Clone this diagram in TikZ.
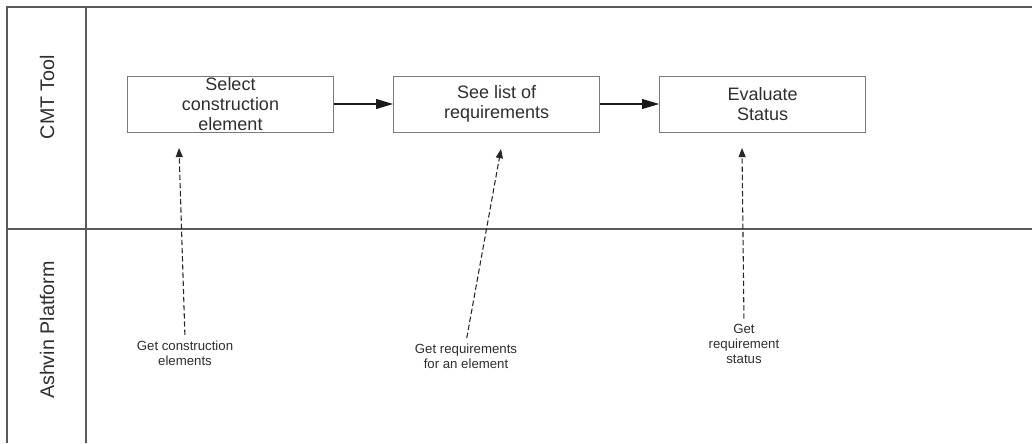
\documentclass[tikz,border=0pt]{standalone}
\usepackage{fontspec}
\setmainfont{Liberation Sans}
\usepackage{xcolor}
\usetikzlibrary{positioning,arrows.meta}
\definecolor{lanegray}{HTML}{5A5A5A}
\definecolor{boxgray}{HTML}{7A7A7A}
\definecolor{txtgray}{HTML}{2E2E2E}
\begin{document}
\begin{tikzpicture}[x=0.025cm,y=-0.025cm,
    node distance=1.475cm,
    box/.style={rectangle,draw=boxgray,line width=0.7pt,
                minimum width=5.15cm,minimum height=1.4cm,inner sep=0pt,
                font=\fontsize{12.8}{14.4}\selectfont,text=txtgray,align=center},
    note/.style={font=\fontsize{9.4}{10.5}\selectfont,text=txtgray,
                 align=center,inner sep=1pt},
    lane/.style={font=\fontsize{14}{15}\selectfont,text=txtgray,rotate=90},
    arr/.style={-{Triangle[length=12pt,width=7pt]},line width=0.8pt,draw=black!90},
    dasharr/.style={-{Triangle[length=6.5pt,width=5pt]},line width=0.75pt,
                    draw=black!85,dash pattern=on 3.8pt off 2pt,shorten <=3pt}]
\useasboundingbox (0,0) rectangle (1032,443);
\draw[lanegray,line width=0.8pt] (1032,7) -- (7,7) -- (7,443);
\draw[lanegray,line width=0.8pt] (86,7) -- (86,443);
\draw[lanegray,line width=0.8pt] (7,229) -- (1032,229);
\node[lane] (cmt)    at (47,97)  {CMT Tool};
\node[lane] (ashvin) at (47,330) {Ashvin Platform};
\node[box] (select) at (230.5,104)  {Select\\construction\\element};
\node[box,right=of select]  (seelist)  {See list of\\requirements};
\node[box,right=of seelist] (evaluate) {Evaluate\\Status};
\draw[arr](select)--(seelist);\draw[arr](seelist)--(evaluate);
\node[note] (getelem) at (185,353) {Get construction\\elements};
\node[note] (getreq)  at (466,356) {Get requirements\\for an element};
\node[note] (getstat) at (744,344) {Get\\requirement\\status};
\coordinate (selin)  at (179,148);
\coordinate (seein)  at (501,149);
\coordinate (evalin) at (742,148);
\draw[dasharr](getelem.north)--(selin);
\draw[dasharr](getreq.north)--(seein);
\draw[dasharr](getstat.north)--(evalin);
\end{tikzpicture}
\end{document}
